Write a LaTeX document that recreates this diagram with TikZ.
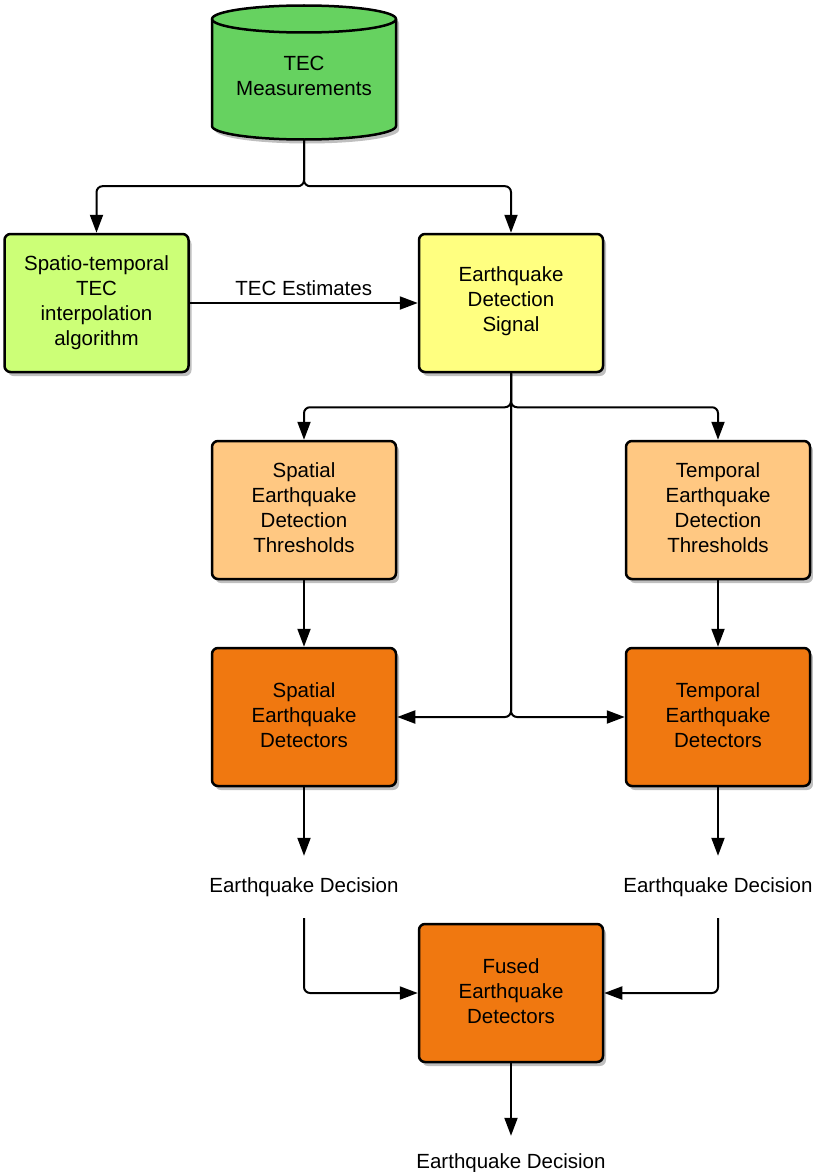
\documentclass[tikz,border=0pt]{standalone}
\usepackage{fontspec}
\setmainfont{Liberation Sans}
\usetikzlibrary{arrows.meta,shadows,positioning}
\definecolor{cylgreen}{RGB}{102,210,96}
\definecolor{lgreen}{RGB}{204,255,119}
\definecolor{lyellow}{RGB}{255,255,128}
\definecolor{lorange}{RGB}{255,200,130}
\definecolor{dorange}{RGB}{240,120,16}
\tikzset{
  boxbase/.style={draw=black, line width=2.5pt, rounded corners=6pt, minimum width=184pt, minimum height=138pt, inner sep=0pt,
    drop shadow={shadow xshift=3pt, shadow yshift=-4pt, opacity=0.25, fill=black}},
  gbox/.style={boxbase, fill=lgreen},
  ybox/.style={boxbase, fill=lyellow},
  obox/.style={boxbase, fill=lorange},
  dbox/.style={boxbase, fill=dorange},
  txt/.style={label={[lbl, yshift=2pt]center:{#1}}},
  txtg/.style={label={[lbl, yshift=0pt]center:{#1}}},
  conn/.style={line width=2pt, rounded corners=6pt, -{Triangle[length=18pt,width=13pt]}},
  lbl/.style={align=center, inner sep=0pt},
}
\begin{document}
\begin{tikzpicture}[x=1pt,y=-1pt, font=\fontsize{20.5}{25}\selectfont]
\useasboundingbox (0,0) rectangle (812,1172);
% cylinder
\fill[black, opacity=0.25] (215,23) -- (215,130) arc[start angle=180,end angle=360,x radius=92pt,y radius=13.5pt] -- (399,23) arc[start angle=0,end angle=180,x radius=92pt,y radius=13.5pt] -- cycle;
\filldraw[fill=cylgreen, draw=black, line width=2.5pt] (212,19) -- (212,126) arc[start angle=180,end angle=360,x radius=92pt,y radius=13.5pt] -- (396,19) arc[start angle=0,end angle=180,x radius=92pt,y radius=13.5pt] -- cycle;
\draw[line width=2.5pt] (212,19) arc[start angle=180,end angle=360,x radius=92pt,y radius=13.5pt];
\node[lbl, minimum width=184pt, minimum height=126pt] (cyl) at (304,76) {TEC\\Measurements};
% boxes
\node[gbox, txtg={Spatio-temporal\\TEC\\interpolation\\algorithm}] (b1) at (96.5,303) {};
\node[ybox, txt={Earthquake\\Detection\\Signal}] (b2) at (511,303) {};
\node[obox, txt={Spatial\\Earthquake\\Detection\\Thresholds}] (b3) at (304,510) {};
\node[obox, txt={Temporal\\Earthquake\\Detection\\Thresholds}] (b4) at (718,510) {};
\node[dbox, txt={Spatial\\Earthquake\\Detectors}] (b5) at (304,717) {};
\node[dbox, txt={Temporal\\Earthquake\\Detectors}] (b6) at (718,717) {};
\node[dbox, txt={Fused\\Earthquake\\Detectors}] (b7) at (511,993) {};
% decision labels
\node[lbl, minimum height=62pt] (d1) at (304,887) {Earthquake Decision};
\node[lbl, minimum height=62pt] (d2) at (718,887) {Earthquake Decision};
\node[lbl, minimum height=54pt] (d3) at (511,1163) {Earthquake Decision};
% connectors
\draw[conn] (cyl.south) -- ++(0,47) -| (b1.north);
\draw[conn] (cyl.south) -- ++(0,47) -| (b2.north);
\draw[conn] (b1.east) -- node[above=6pt, lbl] (est) {TEC Estimates} (b2.west);
\draw[conn] (b2.south) -- ++(0,34) -| (b3.north);
\draw[conn] (b2.south) -- ++(0,34) -| (b4.north);
\draw[conn] (b2.south) |- (b5.east);
\draw[conn] (b2.south) |- (b6.west);
\draw[conn] (b3.south) -- (b5.north);
\draw[conn] (b4.south) -- (b6.north);
\draw[conn] (b5.south) -- (d1.north);
\draw[conn] (b6.south) -- (d2.north);
\draw[conn] (d1.south) |- (b7.west);
\draw[conn] (d2.south) |- (b7.east);
\draw[conn] (b7.south) -- (d3.north);
\end{tikzpicture}
\end{document}
